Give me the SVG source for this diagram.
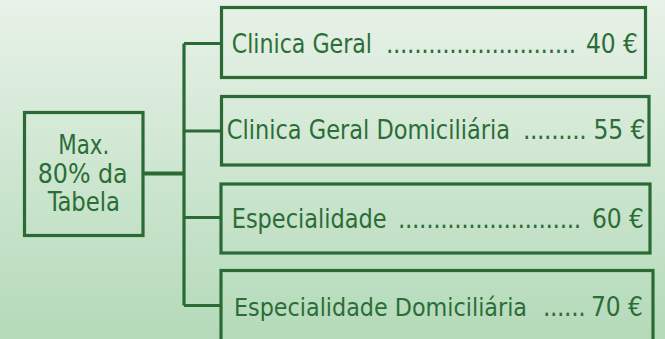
<svg xmlns="http://www.w3.org/2000/svg" width="665" height="339" viewBox="0 0 665 339">
<defs>
<linearGradient id="bg" x1="0" y1="0" x2="0" y2="1">
<stop offset="0" stop-color="#e8f2e8"/>
<stop offset="1" stop-color="#b4dab9"/>
</linearGradient>
</defs>
<style>
.box{fill:none;stroke:#2a6b35;stroke-width:3.2}
.con{fill:none;stroke:#2a6b35;stroke-width:3.2}
.t{font-family:"DejaVu Sans Condensed","DejaVu Sans",sans-serif;font-stretch:condensed;font-size:26px;fill:#2c6d37}
.d{letter-spacing:-0.4px}
</style>
<rect x="0" y="0" width="665" height="339" fill="url(#bg)"/>
<g id="connectors">
<path class="con" d="M143 173.5H184" style="stroke-width:4"/>
<path class="con" d="M184 43.5V305.5M184 43.5H221M184 131H221M184 217.5H221M184 305.5H221"/>
</g>
<g id="node-max">
<rect class="box" x="24.5" y="112.5" width="118.5" height="123"/>
<text class="t"><tspan x="58.3" y="154.3" textLength="51" lengthAdjust="spacingAndGlyphs">Max.</tspan><tspan x="37.7" y="182.7" textLength="90" lengthAdjust="spacingAndGlyphs">80% da</tspan><tspan x="47.7" y="210.7" textLength="72.3" lengthAdjust="spacingAndGlyphs">Tabela</tspan></text>
</g>
<g id="node-clinica-geral">
<rect class="box" x="221.5" y="7.5" width="424" height="70"/>
<text class="t" y="52.5"><tspan x="231.7" textLength="140.3" lengthAdjust="spacingAndGlyphs">Clinica Geral</tspan><tspan class="d" x="379"> ...........................</tspan><tspan x="578.5"> 40 €</tspan></text>
</g>
<g id="node-clinica-geral-dom">
<rect class="box" x="221.5" y="96.5" width="427.5" height="68.5"/>
<text class="t" y="139.3"><tspan x="226.7" textLength="283.3" lengthAdjust="spacingAndGlyphs">Clinica Geral Domiciliária</tspan><tspan class="d" x="516"> .........</tspan><tspan x="586"> 55 €</tspan></text>
</g>
<g id="node-especialidade">
<rect class="box" x="221" y="184" width="429" height="69"/>
<text class="t" y="227.7"><tspan x="231.7" textLength="155" lengthAdjust="spacingAndGlyphs">Especialidade</tspan><tspan class="d" x="391"> ..........................</tspan><tspan x="584.5"> 60 €</tspan></text>
</g>
<g id="node-especialidade-dom">
<rect class="box" x="221" y="270.5" width="432" height="80"/>
<text class="t" y="315.7"><tspan x="234" style="font-size:24px" textLength="293" lengthAdjust="spacingAndGlyphs">Especialidade Domiciliária</tspan><tspan class="d" x="536"> ......</tspan><tspan x="583.5"> 70 €</tspan></text>
</g>
</svg>
